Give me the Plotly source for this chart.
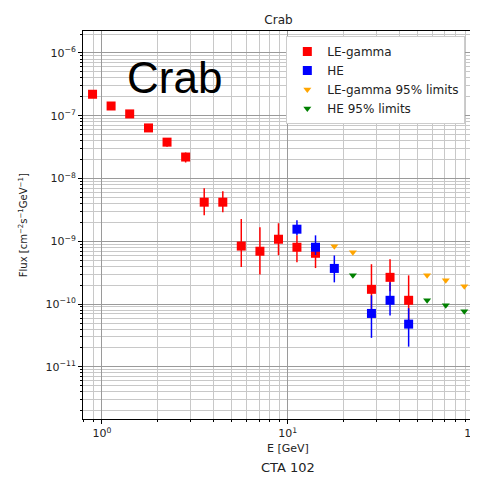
"""Crab spectrum: LE-gamma and HE flux points with 95% upper limits."""

import plotly.graph_objects as go

# Energies [GeV]
le_energy = [0.89, 1.12, 1.41, 1.78, 2.24, 2.82, 3.55, 4.47, 5.62, 7.08, 8.91,
             11.2, 14.1, 28.2, 35.5, 44.7]
le_flux = [2.2e-7, 1.43e-7, 1.07e-7, 6.4e-8, 3.8e-8, 2.2e-8, 4.2e-9, 4.2e-9,
           8.4e-10, 6.95e-10, 1.08e-9, 8.05e-10, 6.45e-10, 1.72e-10, 2.67e-10, 1.15e-10]
le_err_up = [2e-8, 1.5e-8, 1e-8, 8e-9, 6e-9, 4e-9, 2.8e-9, 2.1e-9,
             1.43e-9, 9.8e-10, 8.6e-10, 4.4e-10, 1.6e-10, 2.6e-10, 2.5e-10, 1.72e-10]
le_err_down = [2e-8, 1.5e-8, 1e-8, 8e-9, 6e-9, 4e-9, 1.6e-9, 1.3e-9,
               4.5e-10, 4.0e-10, 4.8e-10, 3.4e-10, 2.7e-10, 9e-11, 1.07e-10, 6e-11]

he_energy = [11.2, 14.1, 17.8, 28.2, 35.5, 44.7]
he_flux = [1.56e-9, 8.05e-10, 3.7e-10, 7.1e-11, 1.15e-10, 4.8e-11]
he_err_up = [6.1e-10, 4.4e-10, 2.25e-10, 6.7e-11, 1.08e-10, 3.8e-11]
he_err_down = [3.1e-10, 2e-10, 1.48e-10, 4.2e-11, 4.9e-11, 2.7e-11]

le_ul_energy = [17.8, 22.4, 56.2, 70.8, 89.1]
le_ul_flux = [8.35e-10, 6.7e-10, 2.88e-10, 2.4e-10, 1.92e-10]

he_ul_energy = [22.4, 56.2, 70.8, 89.1]
he_ul_flux = [2.88e-10, 1.15e-10, 9.55e-11, 7.7e-11]

y_tickvals = [1e-11, 1e-10, 1e-9, 1e-8, 1e-7, 1e-6]
y_ticktext = ["10<sup>−11</sup>", "10<sup>−10</sup>", "10<sup>−9</sup>",
              "10<sup>−8</sup>", "10<sup>−7</sup>", "10<sup>−6</sup>"]
x_tickvals = [1, 10, 100]
x_ticktext = ["10<sup>0</sup>", "10<sup>1</sup>", "10<sup>2</sup>"]

FONT = "DejaVu Sans"

fig = go.Figure()

fig.add_trace(go.Scatter(
    x=le_energy, y=le_flux, mode="markers", name="LE-gamma",
    marker=dict(symbol="square", size=9, color="red"),
    error_y=dict(type="data", symmetric=False, array=le_err_up,
                 arrayminus=le_err_down, color="red", thickness=1.5, width=0),
))
fig.add_trace(go.Scatter(
    x=he_energy, y=he_flux, mode="markers", name="HE",
    marker=dict(symbol="square", size=9, color="blue"),
    error_y=dict(type="data", symmetric=False, array=he_err_up,
                 arrayminus=he_err_down, color="blue", thickness=1.5, width=0),
))
fig.add_trace(go.Scatter(
    x=le_ul_energy, y=le_ul_flux, mode="markers", name="LE-gamma 95% limits",
    marker=dict(symbol="triangle-down", size=7, color="orange"),
))
fig.add_trace(go.Scatter(
    x=he_ul_energy, y=he_ul_flux, mode="markers", name="HE 95% limits",
    marker=dict(symbol="triangle-down", size=7, color="green"),
))

# large label inside the axes
fig.add_annotation(
    x=0.233, y=0.88, xref="paper", yref="paper", text="Crab",
    xanchor="center", yanchor="middle",
    showarrow=False, font=dict(family="Liberation Sans", size=44, color="black"),
)
# x axis title and caption under it
fig.add_annotation(
    x=0.525, y=-0.075, xref="paper", yref="paper", text="E [GeV]",
    xanchor="center", yanchor="middle",
    showarrow=False, font=dict(family=FONT, size=11, color="#222"),
)
fig.add_annotation(
    x=0.525, y=-0.124, xref="paper", yref="paper", text="CTA 102",
    xanchor="center", yanchor="middle",
    showarrow=False, font=dict(family=FONT, size=13, color="#222"),
)
# y axis title
fig.add_annotation(
    x=-0.153, y=0.5, xref="paper", yref="paper", textangle=-90,
    text="Flux [cm<sup>−2</sup>s<sup>−1</sup>GeV<sup>−1</sup>]",
    xanchor="center", yanchor="middle",
    showarrow=False, font=dict(family=FONT, size=10, color="#222"),
)

axis_common = dict(
    type="log", showline=True, linecolor="black", linewidth=1, mirror=True,
    ticks="outside", ticklen=4, tickcolor="black", automargin=False,
    ticklabeloverflow="allow",
    showgrid=True, gridcolor="#9a9a9a", gridwidth=1, zeroline=False,
    tickfont=dict(family=FONT, size=11, color="#222"),
    minor=dict(showgrid=True, gridcolor="#c8c8c8", ticks="outside", dtick="D1",
               ticklen=2, tickcolor="black"),
)

fig.update_xaxes(
    **axis_common, range=[-0.102, 2.002],
    tickvals=x_tickvals, ticktext=x_ticktext,
)
fig.update_yaxes(
    **axis_common, range=[-11.83, -5.65],
    tickvals=y_tickvals, ticktext=y_ticktext,
)

# the page body adds an 8px offset, so the figure is 8px smaller than the window
fig.update_layout(
    width=470, height=469,
    margin=dict(l=75, r=4, t=23, b=58),
    paper_bgcolor="white", plot_bgcolor="white",
    title=dict(text="Crab", x=0.5, xref="paper", xanchor="center",
               y=0.974, yanchor="middle",
               font=dict(family=FONT, size=12, color="#222")),
    legend=dict(x=0.52, y=0.987, xanchor="left", yanchor="top",
                bgcolor="white", bordercolor="#cccccc", borderwidth=1,
                font=dict(family=FONT, size=12, color="#222"),
                itemwidth=30, tracegroupgap=0),
    showlegend=True,
)

fig.write_html("out.html")
